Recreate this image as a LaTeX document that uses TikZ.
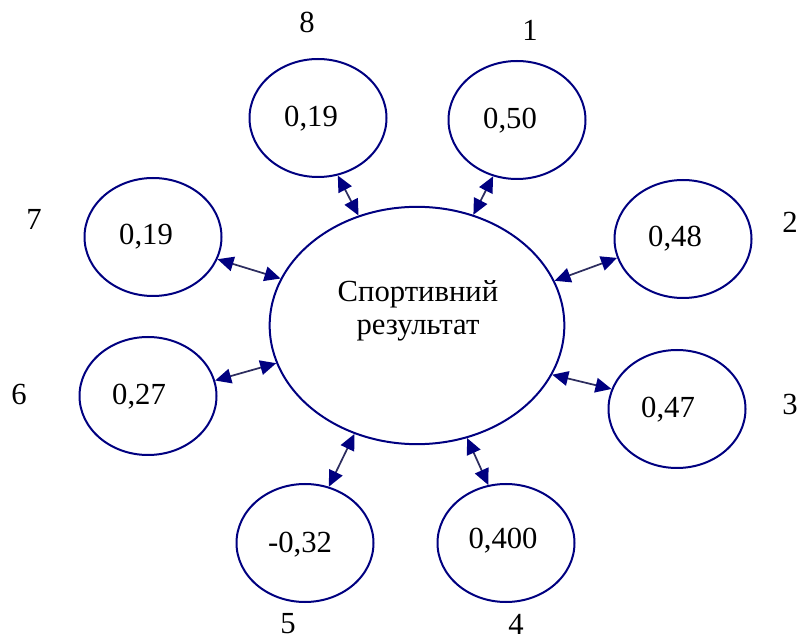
\documentclass[tikz,border=0pt]{standalone}
\usepackage{fontspec}
\setmainfont{Liberation Serif}
\newfontfamily\tnr{Liberation Serif}
\usetikzlibrary{shapes.geometric,arrows.meta}
\definecolor{navy}{RGB}{0,0,128}
\definecolor{arrline}{RGB}{45,45,95}
\begin{document}
\begin{tikzpicture}[x=0.75pt,y=-0.75pt,
  small/.style={ellipse,draw=navy,line width=1.5pt,minimum width=102.75pt,minimum height=88.5pt,inner sep=0pt},
  big/.style={ellipse,draw=navy,line width=1.5pt,minimum width=221pt,minimum height=178pt,inner sep=0pt},
  txt/.style={anchor=base,font=\tnr\fontsize{23}{27}\selectfont,inner sep=0pt},
  link/.style={draw=arrline,line width=1.3pt,
    {Triangle[length=12pt,width=11pt,color=navy]}-{Triangle[length=12pt,width=11pt,color=navy]}}]
\useasboundingbox (0,0) rectangle (800,641);
% ellipses
\node[big] (c) at (417,325.5) {};
\node[small] (e8) at (318,118) {};
\node[small] (e1) at (517,120) {};
\node[small] (e2) at (683,239) {};
\node[small] (e3) at (677,409) {};
\node[small] (e4) at (506,543) {};
\node[small] (e5) at (305,543) {};
\node[small] (e6) at (148,396) {};
\node[small] (e7) at (153,237) {};
% texts inside
\node[txt] (ct1) at (418,302) {Спортивний};
\node[txt] (ct2) at (418,335) {результат};
\node[txt] (t8) at (311,127) {0,19};
\node[txt] (t1) at (510,129) {0,50};
\node[txt] (t2) at (675,247) {0,48};
\node[txt] (t3) at (668,418) {0,47};
\node[txt] (t4) at (503,548) {0,400};
\node[txt] (t5) at (300,552) {-0,32};
\node[txt] (t6) at (139,405) {0,27};
\node[txt] (t7) at (146,245) {0,19};
% number labels
\node[txt] (l8) at (307,33) {8};
\node[txt] (l1) at (530,41) {1};
\node[txt] (l2) at (790,233) {2};
\node[txt] (l3) at (790,415) {3};
\node[txt] (l4) at (516,634) {4};
\node[txt] (l5) at (288,633) {5};
\node[txt] (l6) at (19,405) {6};
\node[txt] (l7) at (34,230) {7};
% connectors
\draw[link] (c.118.8) -- (e8.289.7);
\draw[link] (c.63.6) -- (e1.247.5);
\draw[link] (c.18.3) -- (e2.196.3);
\draw[link] (c.340.6) -- (e3.163.7);
\draw[link] (c.294.1) -- (e4.107.3);
\draw[link] (c.240.1) -- (e5.67.7);
\draw[link] (c.195.1) -- (e6.13);
\draw[link] (c.161.7) -- (e7.341);
\end{tikzpicture}
\end{document}
